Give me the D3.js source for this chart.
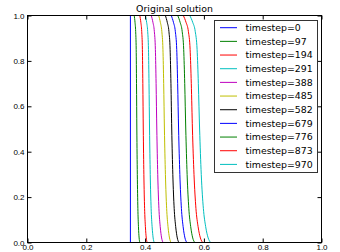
<!DOCTYPE html>
<html>
<head>
<meta charset="utf-8">
<script src="https://cdn.jsdelivr.net/npm/d3@7"></script>
<style>
  body { margin: 0; background: #fff; }
  svg { display: block; font-family: "DejaVu Sans", sans-serif; }
</style>
</head>
<body>
<div id="chart"></div>
<script>
// timesteps shown in the legend
const timesteps = [0, 97, 194, 291, 388, 485, 582, 679, 776, 873, 970];
const colors = ["#0000ff", "#008000", "#ff0000", "#00bfbf", "#bf00bf", "#bfbf00", "#000000",
                "#0000ff", "#008000", "#ff0000", "#00bfbf"];

const levels = [1, 0.97, 0.93, 0.85, 0.7, 0.5, 0.3, 0.15, 0.07, 0.02, 0];

// x position of each front at the levels above
const front0   = [0.35, 0.35, 0.35, 0.35, 0.35, 0.35, 0.35, 0.35, 0.35, 0.35, 0.35];
const front97  = [0.363, 0.3657, 0.3679, 0.3697, 0.3708, 0.3719, 0.3735, 0.3754, 0.3774, 0.3797, 0.382];
const front194 = [0.382, 0.3855, 0.3885, 0.3908, 0.3923, 0.3938, 0.3958, 0.3983, 0.401, 0.404, 0.407];
const front291 = [0.401, 0.4052, 0.4088, 0.4115, 0.4133, 0.4151, 0.4175, 0.4205, 0.4238, 0.4274, 0.431];
const front388 = [0.421, 0.4266, 0.4314, 0.435, 0.4374, 0.4398, 0.443, 0.447, 0.4514, 0.4562, 0.461];
const front485 = [0.446, 0.4519, 0.4569, 0.4607, 0.4632, 0.4657, 0.4691, 0.4733, 0.4779, 0.483, 0.488];
const front582 = [0.469, 0.4754, 0.481, 0.4851, 0.4879, 0.4906, 0.4943, 0.4989, 0.504, 0.5095, 0.515];
const front679 = [0.489, 0.4964, 0.5028, 0.5076, 0.5107, 0.5139, 0.5182, 0.5235, 0.5293, 0.5356, 0.542];
const front776 = [0.511, 0.5191, 0.5261, 0.5313, 0.5348, 0.5383, 0.5429, 0.5487, 0.5551, 0.562, 0.569];
const front873 = [0.530, 0.5392, 0.5472, 0.5531, 0.5571, 0.561, 0.5663, 0.5729, 0.5802, 0.5881, 0.596];
const front970 = [0.552, 0.5619, 0.5705, 0.5769, 0.5811, 0.5854, 0.591, 0.5982, 0.606, 0.6145, 0.623];
const fronts = [front0, front97, front194, front291, front388, front485, front582,
                front679, front776, front873, front970];

const xTicks = [0, 0.2, 0.4, 0.6, 0.8, 1.0];
const yTicks = [0, 0.2, 0.4, 0.6, 0.8, 1.0];

const width = 340, height = 252;
const plotLeft = 27.5, plotRight = 321.5, plotTop = 15.5, plotBottom = 242.5;

const svg = d3.select("#chart").append("svg")
  .attr("width", width)
  .attr("height", height);

const x = d3.scaleLinear().domain([0, 1]).range([plotLeft, plotRight]);
const y = d3.scaleLinear().domain([0, 1]).range([plotBottom, plotTop]);

// the fronts
const line = d3.line()
  .x(d => x(d[0]))
  .y(d => y(d[1]));

fronts.forEach((xs, i) => {
  const pts = xs.map((v, j) => [v, levels[j]]);
  const first = i === 0;
  svg.append("path")
    .attr("d", line.curve(first ? d3.curveLinear : d3.curveMonotoneX)(first ? [pts[0], pts[pts.length - 1]] : pts))
    .attr("fill", "none")
    .attr("stroke", colors[i])
    .attr("stroke-width", 1);
});

// ticks point inward on all four sides
const fmt = d3.format(".1f");
function styleAxis(g) {
  g.select(".domain").remove();
  g.selectAll("line").attr("stroke", "#000");
  g.selectAll("text").attr("fill", "#000").style("font-size", "8px");
}
svg.append("g").attr("transform", `translate(0,${plotBottom})`)
  .call(d3.axisBottom(x).tickValues(xTicks).tickFormat(fmt).tickSizeInner(-4).tickSizeOuter(0).tickPadding(2))
  .call(styleAxis);
svg.append("g").attr("transform", `translate(0,${plotTop})`)
  .call(d3.axisTop(x).tickValues(xTicks).tickFormat("").tickSizeInner(-4).tickSizeOuter(0))
  .call(styleAxis);
svg.append("g").attr("transform", `translate(${plotLeft},0)`)
  .call(d3.axisLeft(y).tickValues(yTicks).tickFormat(fmt).tickSizeInner(-4).tickSizeOuter(0).tickPadding(3))
  .call(styleAxis);
svg.append("g").attr("transform", `translate(${plotRight},0)`)
  .call(d3.axisRight(y).tickValues(yTicks).tickFormat("").tickSizeInner(-4).tickSizeOuter(0))
  .call(styleAxis);

// frame
svg.append("rect")
  .attr("x", plotLeft).attr("y", plotTop)
  .attr("width", plotRight - plotLeft).attr("height", plotBottom - plotTop)
  .attr("fill", "none").attr("stroke", "#000").attr("stroke-width", 1);

// title
svg.append("text")
  .attr("x", (plotLeft + plotRight) / 2)
  .attr("y", 12)
  .attr("text-anchor", "middle")
  .style("font-size", "9.4px")
  .text("Original solution");

// legend
const legend = svg.append("g");
legend.append("rect")
  .attr("x", 214.5).attr("y", 20.5)
  .attr("width", 103).attr("height", 152)
  .attr("fill", "#fff").attr("stroke", "#333").attr("stroke-width", 1);

timesteps.forEach((t, i) => {
  const cy = 27.7 + i * 13.67;
  legend.append("line")
    .attr("x1", 220).attr("x2", 237)
    .attr("y1", cy).attr("y2", cy)
    .attr("stroke", colors[i]).attr("stroke-width", 1);
  legend.append("text")
    .attr("x", 245.5).attr("y", cy)
    .attr("dy", "0.35em")
    .style("font-size", "9.4px")
    .text("timestep=" + t);
});
</script>
</body>
</html>
